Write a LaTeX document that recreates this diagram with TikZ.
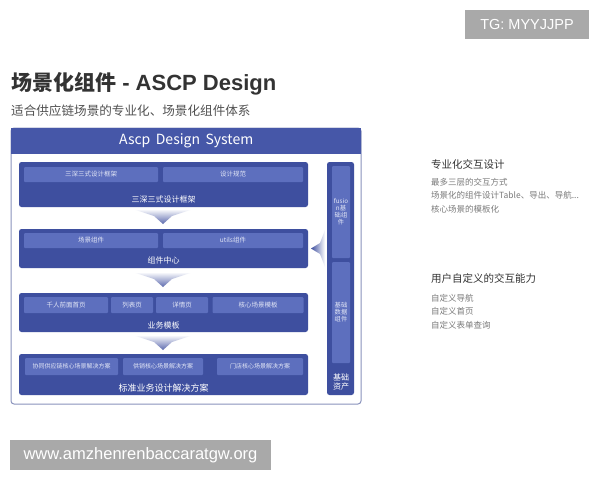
\documentclass[tikz,border=0pt]{standalone}
\usepackage{fontspec}
\newfontfamily\cjk{Noto Sans CJK SC}
\newfontfamily\arial{Liberation Sans}
\definecolor{dblue}{HTML}{3E4F9F}
\definecolor{hblue}{HTML}{4657A8}
\definecolor{sblue}{HTML}{5D6FBE}
\definecolor{fblue}{HTML}{8A93BC}
\definecolor{wmgray}{HTML}{A9A9A9}
\definecolor{headtxt}{HTML}{333333}
\definecolor{itemtxt}{HTML}{7A7A7A}
\definecolor{subtxt}{HTML}{E2E6F6}
\tikzset{
  layer/.style={fill=dblue, rounded corners=2.5pt, inner sep=0pt, draw=none},
  subbox/.style={fill=sblue, rounded corners=1pt, inner sep=0pt, draw=none, text=subtxt, font=\cjk\fontsize{6.5}{7}\selectfont},
  lbl/.style={text=white, font=\cjk\fontsize{8}{9}\selectfont, inner sep=0pt},
  funnel/.style={top color=white, bottom color=dblue!85, draw=none},
  rhead/.style={anchor=west, text=headtxt, font=\cjk\fontsize{10.5}{12}\selectfont, inner sep=0pt},
  ritem/.style={anchor=west, text=itemtxt, font=\cjk\fontsize{8.5}{10}\selectfont, inner sep=0pt},
  colbox/.style={fill=sblue, rounded corners=1pt, inner sep=0pt, draw=none},
  coltxt/.style={text=subtxt, font=\cjk\fontsize{6.3}{7}\selectfont, align=center, inner sep=0pt},
  tag/.style={fill=wmgray, text=white, inner sep=0pt}
}
\begin{document}
\begin{tikzpicture}[x=1pt,y=-1pt]
\useasboundingbox (0,0) rectangle (600,480);
\fill[white] (0,0) rectangle (600,480);

% top-right tag
\node[tag, minimum width=124, minimum height=29, font=\arial\fontsize{14.5}{16}\selectfont] (tg) at (527,24.5) {TG: MYYJJPP};

% title
\node[anchor=west, inner sep=0pt, text=headtxt, font=\cjk\bfseries\fontsize{21}{24}\selectfont] (title) at (11,84) {场景化组件{\arial\bfseries\fontsize{22}{24}\selectfont\ - ASCP Design}};
\node[anchor=west, inner sep=0pt, text=headtxt!85, font=\cjk\fontsize{12.6}{14}\selectfont] (subtitle) at (11,111) {适合供应链场景的专业化、场景化组件体系};

% main frame
\draw[fblue, line width=1pt, rounded corners=3pt, fill=white] (11,128) rectangle (361,404);
\node[fill=hblue, minimum width=350, minimum height=26, inner sep=0pt, anchor=north west] (header) at (11,128) {};
\node[text=white, font=\cjk\fontsize{14}{16}\selectfont, inner sep=0pt] (htxt) at (header.center) {Ascp\, Design\, System};

% layer 1
\node[layer, minimum width=289, minimum height=45] (L1) at (163.5,184.5) {};
\node[subbox, minimum width=134, minimum height=15] (s1a) at (91,174.5) {三深三式设计框架};
\node[subbox, minimum width=140, minimum height=15] (s1b) at (233,174.5) {设计规范};
\node[lbl] (l1) at (163.5,199) {三深三式设计框架};

% layer 2
\node[layer, minimum width=289, minimum height=39] (L2) at (163.5,248.5) {};
\node[subbox, minimum width=134, minimum height=15] (s2a) at (91,240.5) {场景组件};
\node[subbox, minimum width=140, minimum height=15] (s2b) at (233,240.5) {utils组件};
\node[lbl] (l2) at (163.5,260) {组件中心};

% layer 3
\node[layer, minimum width=289, minimum height=39] (L3) at (163.5,312.5) {};
\node[subbox, minimum width=84, minimum height=16] (s3a) at (66,305) {千人前面首页};
\node[subbox, minimum width=42, minimum height=16] (s3b) at (132,305) {列表页};
\node[subbox, minimum width=52, minimum height=16] (s3c) at (182,305) {详情页};
\node[subbox, minimum width=91, minimum height=16] (s3d) at (258,305) {核心场景模板};
\node[lbl] (l3) at (163.5,325) {业务模板};

% layer 4
\node[layer, minimum width=289, minimum height=41] (L4) at (163.5,374.5) {};
\node[subbox, minimum width=93, minimum height=17, font=\cjk\fontsize{6}{7}\selectfont] (s4a) at (71.5,366.5) {协同供应链核心场景解决方案};
\node[subbox, minimum width=80, minimum height=17, font=\cjk\fontsize{6}{7}\selectfont] (s4b) at (163,366.5) {供销核心场景解决方案};
\node[subbox, minimum width=86, minimum height=17, font=\cjk\fontsize{6}{7}\selectfont] (s4c) at (260,366.5) {门店核心场景解决方案};
\node[lbl, font=\cjk\fontsize{9}{10}\selectfont] (l4) at (163.5,388) {标准业务设计解决方案};

% funnels between layers
\shade[funnel] (133,209) -- (193,209) -- (172,216) -- (163,224) -- (154,216) -- cycle;
\shade[funnel] (133,272) -- (193,272) -- (172,279) -- (163,287) -- (154,279) -- cycle;
\shade[funnel] (133,335) -- (193,335) -- (172,342) -- (163,350) -- (154,342) -- cycle;

% right column
\node[layer, minimum width=27, minimum height=233] (col) at (340.5,278.5) {};
\node[colbox, minimum width=18, minimum height=92] (cA) at (341,212) {};
\node[colbox, minimum width=18, minimum height=101] (cB) at (341,312.5) {};
\node[coltxt] (cAt) at (341,212) {fusio\\n基\\础组\\件};
\node[coltxt] (cBt) at (341,312) {基础\\数据\\组件};
\node[coltxt, text=white, font=\cjk\fontsize{8}{9}\selectfont] (cCt) at (341,382) {基础\\资产};

% side arrow pointing to layer 2
\shade[left color=dblue, right color=white, draw=none] (325,230) -- (320,243) -- (311,248.5) -- (320,254) -- (325,267) -- cycle;

% right descriptions
\node[rhead] (r1) at (431,164) {专业化交互设计};
\node[ritem] (r1a) at (431,182) {最多三层的交互方式};
\node[ritem] (r1b) at (431,195.5) {场景化的组件设计Table、导出、导航...};
\node[ritem] (r1c) at (431,209) {核心场景的模板化};

\node[rhead] (r2) at (431,278) {用户自定义的交互能力};
\node[ritem] (r2a) at (431,298) {自定义导航};
\node[ritem] (r2b) at (431,311.5) {自定义首页};
\node[ritem] (r2c) at (431,325) {自定义表单查询};

% watermark
\node[tag, minimum width=261, minimum height=30, font=\arial\fontsize{16.5}{18}\selectfont] (wm) at (140.5,455) {www.amzhenrenbaccaratgw.org};
\end{tikzpicture}
\end{document}
